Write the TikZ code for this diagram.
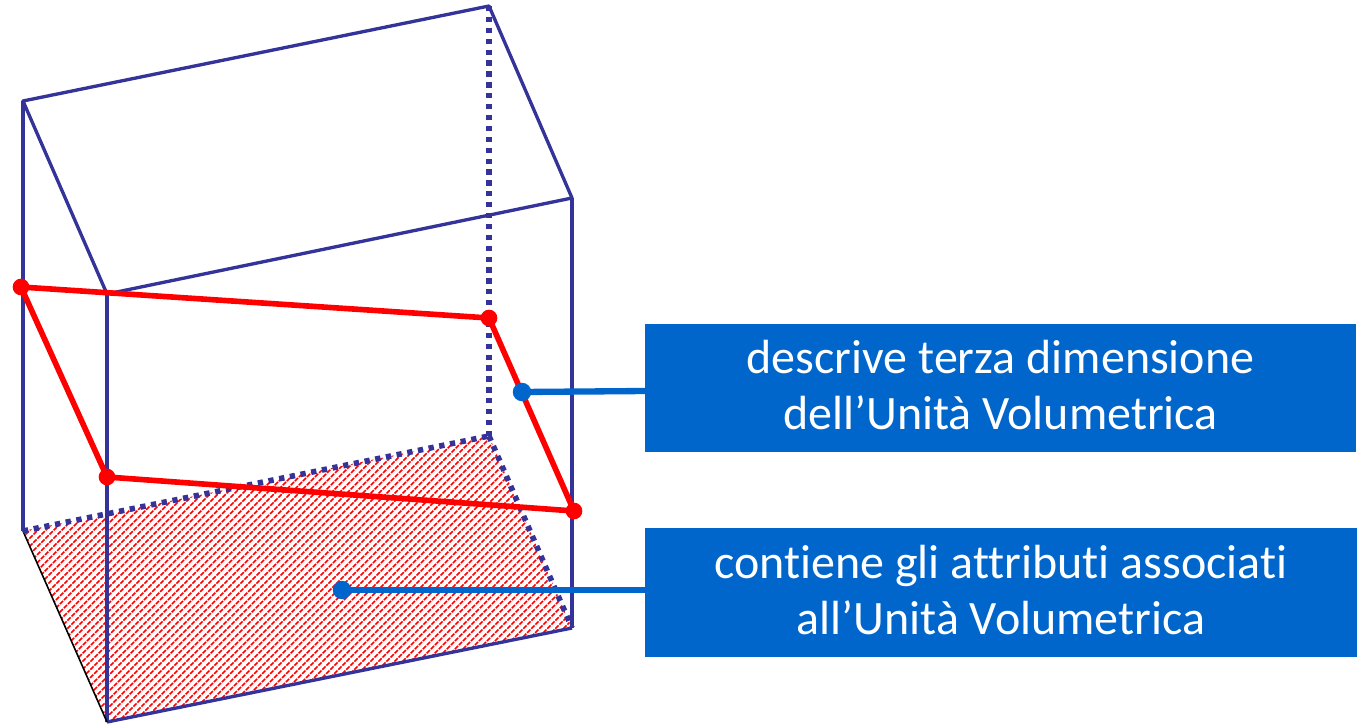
\documentclass[tikz,border=0pt]{standalone}
\usepackage{fontspec}
\setmainfont[Ligatures=NoCommon]{Carlito}
\usepackage{tikz}
\usetikzlibrary{calc}
\definecolor{boxblue}{RGB}{0,102,204}
\definecolor{edgeblue}{RGB}{51,51,153}
\newcommand{\liftstrut}{\rule[-3.4pt]{0pt}{0pt}}
\tikzset{
  solidedge/.style={draw=edgeblue,line width=1.9pt},
  dotedge/.style={draw=edgeblue,line width=3.2pt,dash pattern=on 3pt off 3.2pt},
  rededge/.style={draw=red,line width=3.2pt,line join=round},
  reddot/.style={circle,fill=red,inner sep=0pt,minimum size=9.5pt},
  linkdot/.style={circle,fill=boxblue,inner sep=0pt,minimum size=10.5pt},
  linkline/.style={draw=boxblue,line width=3.6pt},
  hatchline/.style={draw=red,line width=0.85pt,dash pattern=on 2.6pt off 0.7pt},
  infobox/.style={fill=boxblue,text=white,minimum width=14.23cm,minimum height=2.57cm,align=center,font=\fontsize{27.3}{32}\selectfont}
}
\begin{document}
\begin{tikzpicture}[x=0.02cm,y=-0.02cm]
\useasboundingbox (0,0) rectangle (1363,724);
\coordinate (a) at (23,101);
\coordinate (b) at (489,6);
\coordinate (c) at (572,198);
\coordinate (d) at (107,294);
\coordinate (e) at (23,531);
\coordinate (f) at (489,436);
\coordinate (g) at (572,628);
\coordinate (h) at (107,722);

\begin{scope}
\clip (e) -- (f) -- (g) -- (h) -- cycle;
\foreach \i in {440,448,...,1304} {
\draw[hatchline] (\i-400,400) -- (\i-730,730);
}
\end{scope}

\draw[solidedge,line join=round] (a) -- (b) -- (c) -- (d) -- cycle;
\draw[solidedge] (a) -- (e);
\draw[solidedge] (d) -- (h);
\draw[solidedge] (c) -- (g);
\draw[solidedge] (h) -- (g);
\draw[black,line width=0.9pt] (e) -- (h);
\draw[dotedge] (b) -- (f);
\draw[dotedge] (e) -- (f);
\draw[dotedge] (f) -- (g);

\node (r1) at (21,287) [reddot] {};
\node (r2) at (489,318) [reddot] {};
\node (r3) at (574,511) [reddot] {};
\node (r4) at (107,477) [reddot] {};
\draw[rededge] (r1.center) -- (r2.center) -- (r3.center) -- (r4.center) -- cycle;

\node (box1) at (1000.5,388) [infobox] {descrive terza dimensione\\dell’Unità Volumetrica\liftstrut};
\node (box2) at (1001,592.5) [infobox] {contiene gli attributi associati\\all’Unità Volumetrica\liftstrut};
\coordinate (p1) at (645,391);
\coordinate (p2) at (645,590);
\node (l1) at (522,392) [linkdot] {};
\node (l2) at (342,590) [linkdot] {};
\draw[linkline] (l1.center) -- (p1);
\draw[linkline] (l2.center) -- (p2);
\end{tikzpicture}
\end{document}
